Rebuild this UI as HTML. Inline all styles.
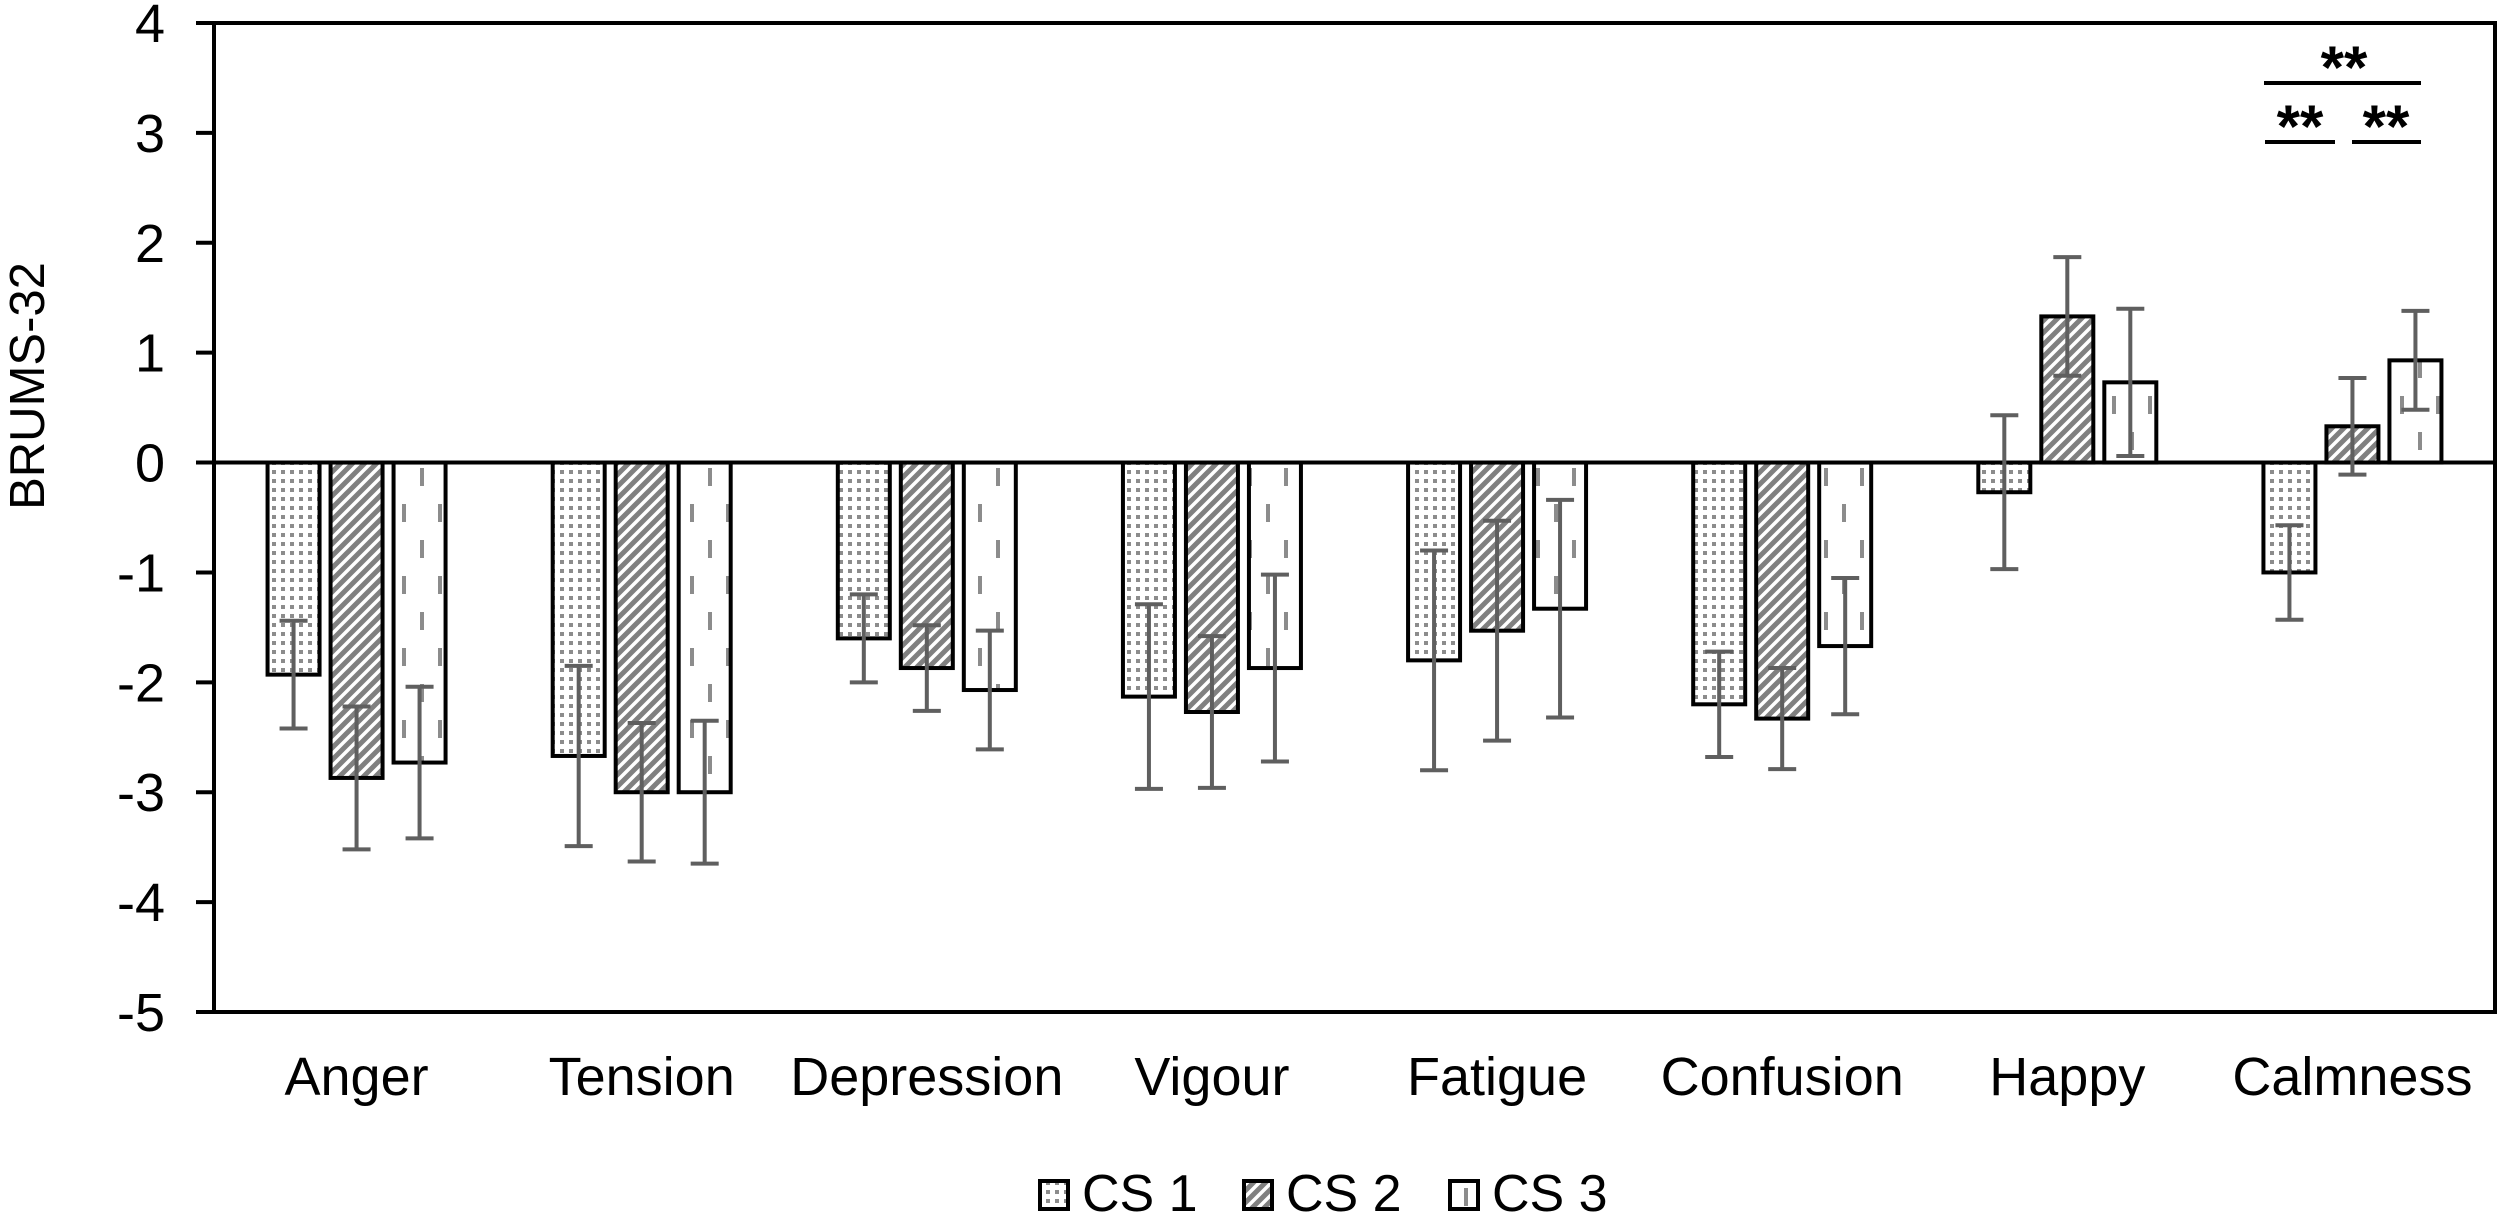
<!DOCTYPE html>
<html><head><meta charset="utf-8"><style>
html,body{margin:0;padding:0;background:#fff;}
svg{display:block;font-family:"Liberation Sans",Arial,sans-serif;}
</style></head><body>
<svg id="chart" width="2500" height="1216" viewBox="0 0 2500 1216" xmlns="http://www.w3.org/2000/svg">
<defs>
<pattern id="pDots" width="9" height="9" patternUnits="userSpaceOnUse">
<rect width="9" height="9" fill="#fff"/><rect x="2" y="2" width="4" height="4" fill="#8c8c8c"/>
</pattern>
<pattern id="pDiag" width="12" height="12" patternUnits="userSpaceOnUse">
<rect width="12" height="12" fill="#fff"/>
<path d="M-3,3 L3,-3 M0,12 L12,0 M9,15 L15,9" stroke="#808080" stroke-width="5"/>
</pattern>
<pattern id="pDash" width="36" height="72" patternUnits="userSpaceOnUse">
<rect width="36" height="72" fill="#fff"/>
<rect x="6" y="0" width="4" height="18" fill="#8c8c8c"/>
<rect x="24" y="36" width="4" height="18" fill="#8c8c8c"/>
</pattern>
</defs>
<g id="plot"></g>
</svg>
<script>
const categories = ["Anger","Tension","Depression","Vigour","Fatigue","Confusion","Happy","Calmness"];
const seriesNames = ["CS 1","CS 2","CS 3"];
const cs1Mean = [-1.93,-2.67,-1.60,-2.13,-1.80,-2.20,-0.27,-1.00];
const cs1Err  = [0.49,0.82,0.40,0.84,1.00,0.48,0.70,0.43];
const cs2Mean = [-2.87,-3.00,-1.87,-2.27,-1.53,-2.33,1.33,0.33];
const cs2Err  = [0.65,0.63,0.39,0.69,1.00,0.46,0.54,0.44];
const cs3Mean = [-2.73,-3.00,-2.07,-1.87,-1.33,-1.67,0.73,0.93];
const cs3Err  = [0.69,0.65,0.54,0.85,0.99,0.62,0.67,0.45];
const yTicks = [4,3,2,1,0,-1,-2,-3,-4,-5];

const NS="http://www.w3.org/2000/svg";
const g=document.getElementById('plot');
const L=214,R=2495,T=23,B=1012,yMax=4,yMin=-5;
function y(v){return T+(yMax-v)*(B-T)/(yMax-yMin);}
const bandW=(R-L)/categories.length;
function xc(i){return L+bandW*(i+0.5);}
function mk(tag,attrs){const e=document.createElementNS(NS,tag);for(const k in attrs)e.setAttribute(k,attrs[k]);g.appendChild(e);return e;}

let e=mk('rect',{x:L,y:T,width:R-L,height:B-T,fill:'none',stroke:'#000','stroke-width':4});



yTicks.forEach(t=>{
  let l=mk('line',{x1:L-18,x2:L,y1:y(t),y2:y(t),stroke:'#000','stroke-width':4});
  
  
  let tx=mk('text',{x:165,y:y(t)+19,'text-anchor':'end','font-size':54});
  tx.textContent=t;
  
  
});
let yt=mk('text',{x:0,y:0,'text-anchor':'middle','font-size':49,transform:'translate(44,386) rotate(-90)'});
yt.textContent='BRUMS-32';



const means=[cs1Mean,cs2Mean,cs3Mean], errs=[cs1Err,cs2Err,cs3Err];
const fills=['url(#pDots)','url(#pDiag)','url(#pDash)'];
const bw=52, step=63;
categories.forEach((c,i)=>{
  for(let s=0;s<3;s++){
    const cx=xc(i)+(s-1)*step, v=means[s][i];
    const y0=y(0), y1=y(v);
    let r=mk('rect',{x:cx-bw/2,y:Math.min(y0,y1),width:bw,height:Math.abs(y1-y0),fill:fills[s],stroke:'#000','stroke-width':4});
    
    
  }
  const lb=mk('text',{x:xc(i),y:1095,'text-anchor':'middle','font-size':54});
  lb.textContent=c;
  
  
});
let z=mk('line',{x1:L,x2:R,y1:y(0),y2:y(0),stroke:'#000','stroke-width':4});


categories.forEach((c,i)=>{
  for(let s=0;s<3;s++){
    const cx=xc(i)+(s-1)*step, v=means[s][i], d=errs[s][i];
    const eg=document.createElementNS(NS,'g');
    
    
    g.appendChild(eg);
    const p=document.createElementNS(NS,'path');
    p.setAttribute('d',`M${cx},${y(v+d)}V${y(v-d)}M${cx-14},${y(v+d)}H${cx+14}M${cx-14},${y(v-d)}H${cx+14}`);
    p.setAttribute('stroke','#5f5f5f');p.setAttribute('stroke-width',4);p.setAttribute('fill','none');
    eg.appendChild(p);
  }
});
[[2264,2421,83,2344,66],[2265,2335,142,2300,125],[2352,2421,142,2386,125]].forEach(a=>{
  let l=mk('line',{x1:a[0],x2:a[1],y1:a[2],y2:a[2],stroke:'#000','stroke-width':4});
  
  
  let t=mk('text',{x:a[3],y:a[4]+22,'text-anchor':'middle','font-size':60,'font-weight':'bold'});
  t.textContent='**';
  
  
});
const lx=[1040,1244,1450];
seriesNames.forEach((n,s)=>{
  let r=mk('rect',{x:lx[s],y:1181,width:28,height:28,fill:fills[s],stroke:'#000','stroke-width':4});
  
  
  let t=mk('text',{x:lx[s]+42,y:1211,'font-size':52});
  t.textContent=n;
  
  
});
</script>
</body></html>
